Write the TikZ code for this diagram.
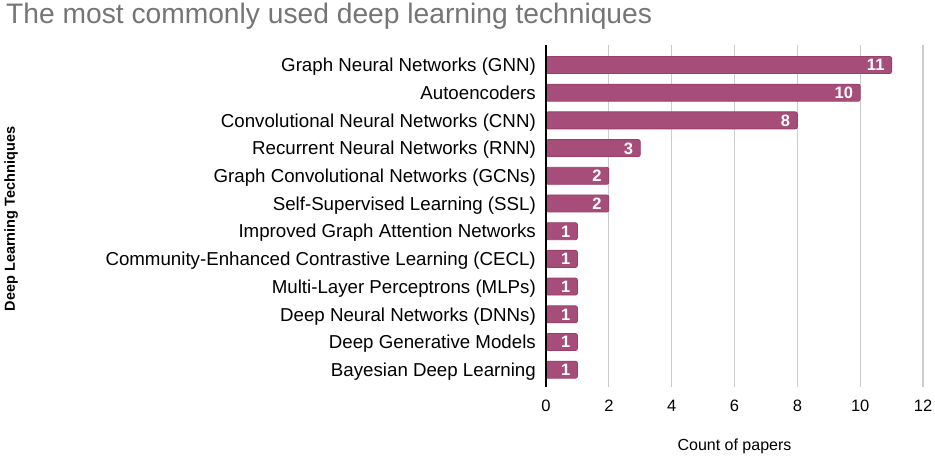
\documentclass[tikz,border=0pt]{standalone}
\usepackage{fontspec}
\setmainfont{Liberation Sans}
\usepackage{tikz}

\definecolor{barfill}{HTML}{A64D79}
\definecolor{barline}{HTML}{983F6B}
\definecolor{titlegray}{HTML}{757575}
\definecolor{gridgray}{HTML}{CCCCCC}

\begin{document}
\begin{tikzpicture}[x=1pt, y=-1pt]
    \tikzstyle{bar} = [fill=barfill, draw=barline, line width=0.8pt, rounded corners=2pt]
    \tikzstyle{barval} = [text=white, font=\bfseries\fontsize{16.5}{16.5}\selectfont, inner sep=0pt, anchor=base east]
    \tikzstyle{catlabel} = [font=\fontsize{18.7}{18.7}\selectfont, inner sep=0pt, anchor=base east]
    \tikzstyle{ticklabel} = [font=\fontsize{16.5}{16.5}\selectfont, inner sep=0pt, anchor=base]
    \tikzstyle{gridline} = [gridgray, line width=1.3pt]

    % Canvas
    \fill[white] (0,0) rectangle (935,457);
    \useasboundingbox (0,0) rectangle (935,457);

    % Title
    \node[font=\fontsize{28.2}{28.2}\selectfont, text=titlegray, inner sep=0pt, anchor=base west] (title) at (6,24) {The most commonly used deep learning techniques};

    % Grid and ticks
    \foreach \t in {0,2,...,12} {
        \ifnum\t>0 \draw[gridline] (546+\t*31.42,45) -- (546+\t*31.42,387); \fi
        \node[ticklabel] (tick\t) at (546+\t*31.42,411) {\t};
    }

    % Bars
    \foreach \lab/\val [count=\i from 0] in {Graph Neural Networks (GNN)/11, Autoencoders/10,
        Convolutional Neural Networks (CNN)/8, Recurrent Neural Networks (RNN)/3,
        Graph Convolutional Networks (GCNs)/2, Self-Supervised Learning (SSL)/2,
        Improved Graph Attention Networks/1, Community-Enhanced Contrastive Learning (CECL)/1,
        Multi-Layer Perceptrons (MLPs)/1, Deep Neural Networks (DNNs)/1,
        Deep Generative Models/1, Bayesian Deep Learning/1} {
        \pgfmathsetmacro{\yc}{65+27.7*\i}
        \draw[bar] (546,\yc-8.5) rectangle (546+\val*31.42,\yc+8.5);
        \node[barval] (val\i) at (546+\val*31.42-7,\yc+6) {\val};
        \node[catlabel] (cat\i) at (536,\yc+6.7) {\lab};
    }

    % Axis
    \draw[black, line width=1.3pt] (546,45) -- (546,387);

    % Axis titles
    \node[font=\fontsize{16}{16}\selectfont, inner sep=0pt, anchor=base] (xtitle) at (734.5,450) {Count of papers};
    \node[font=\bfseries\fontsize{14.5}{14.5}\selectfont, inner sep=0pt, anchor=base, rotate=90] (ytitle) at (15,219) {Deep Learning Techniques};
\end{tikzpicture}
\end{document}
